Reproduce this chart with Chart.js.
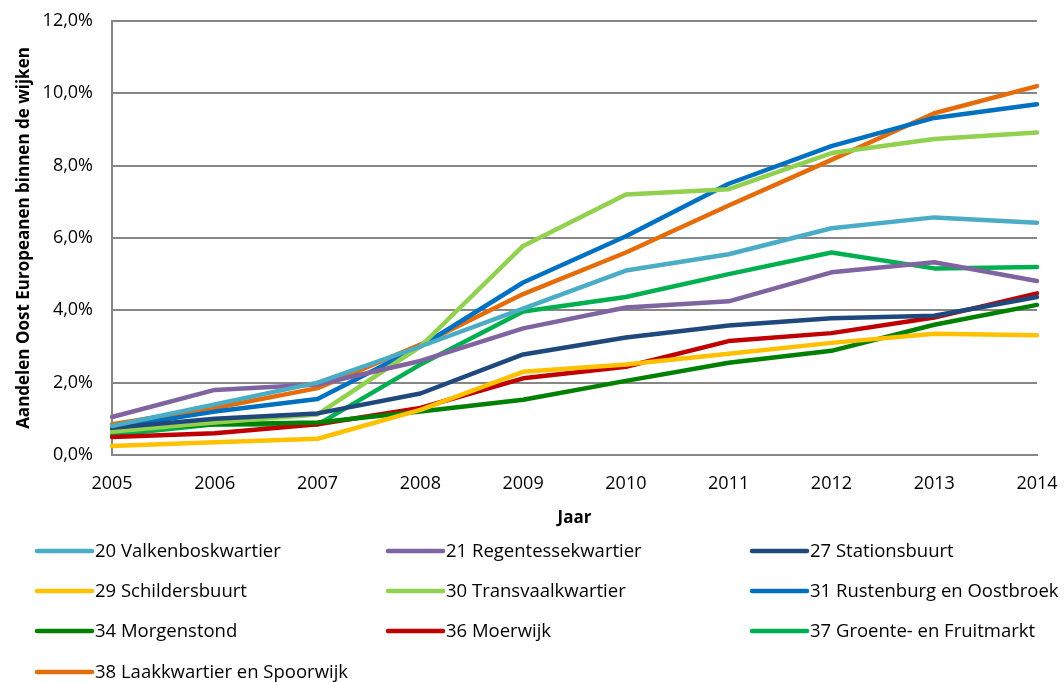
<!DOCTYPE html>
<html>
<head>
<meta charset="utf-8">
<script src="https://cdn.jsdelivr.net/npm/chart.js@4/dist/chart.umd.min.js"></script>
<style>
  html, body { margin: 0; padding: 0; background: #fff; }
  #wrap { width: 1064px; height: 682px; position: relative; }
</style>
</head>
<body>
<div id="wrap"><canvas id="c" width="1064" height="682"></canvas></div>
<script>
// Aandelen Oost Europeanen per wijk, 2005-2014 (percent)
const years = ["2005", "2006", "2007", "2008", "2009", "2010", "2011", "2012", "2013", "2014"];
const yTicks = [0, 2, 4, 6, 8, 10, 12];

const valkenbos    = [0.80, 1.40, 2.00, 3.00, 4.05, 5.10, 5.55, 6.27, 6.57, 6.42];
const regentesse   = [1.05, 1.80, 1.95, 2.60, 3.50, 4.08, 4.25, 5.05, 5.33, 4.81];
const stations     = [0.75, 1.00, 1.15, 1.70, 2.78, 3.25, 3.58, 3.78, 3.85, 4.37];
const schilders    = [0.25, 0.35, 0.45, 1.25, 2.30, 2.50, 2.80, 3.10, 3.35, 3.31];
const transvaal    = [0.65, 0.90, 1.12, 3.00, 5.78, 7.20, 7.35, 8.35, 8.74, 8.92];
const rustenburg   = [0.75, 1.20, 1.55, 3.00, 4.77, 6.05, 7.50, 8.54, 9.32, 9.70];
const morgenstond  = [0.70, 0.85, 0.90, 1.20, 1.53, 2.05, 2.55, 2.88, 3.60, 4.15];
const moerwijk     = [0.50, 0.60, 0.85, 1.30, 2.12, 2.44, 3.15, 3.37, 3.80, 4.47];
const groente      = [0.55, 0.85, 0.84, 2.50, 3.97, 4.37, 5.00, 5.60, 5.16, 5.20];
const laak         = [0.85, 1.30, 1.85, 3.05, 4.45, 5.60, 6.90, 8.16, 9.45, 10.20];

const seriesNames = [
  "20 Valkenboskwartier", "21 Regentessekwartier", "27 Stationsbuurt",
  "29 Schildersbuurt", "30 Transvaalkwartier", "31 Rustenburg en Oostbroek",
  "34 Morgenstond", "36 Moerwijk", "37 Groente- en Fruitmarkt",
  "38 Laakkwartier en Spoorwijk"
];
const seriesData = [valkenbos, regentesse, stations, schilders, transvaal,
  rustenburg, morgenstond, moerwijk, groente, laak];
const seriesColors = ["#4bacc6", "#8064a2", "#1f497d", "#ffc000", "#92d050",
  "#0070c0", "#008000", "#c00000", "#00b050", "#e46c0a"];

const FONT = "'Open Sans', sans-serif";

// legend drawn on the canvas in a 3-column grid like the original
const gridLegend = {
  id: "gridLegend",
  afterDraw(chart) {
    const ctx = chart.ctx;
    const colX = [37, 388, 752];
    const rowY = [551, 591, 631, 672];
    ctx.save();
    ctx.font = "18.5px " + FONT;
    ctx.textBaseline = "middle";
    ctx.lineCap = "round";
    chart.data.datasets.forEach((ds, i) => {
      const x = colX[i % 3];
      const y = rowY[Math.floor(i / 3)];
      ctx.strokeStyle = ds.borderColor;
      ctx.lineWidth = 4.5;
      ctx.beginPath();
      ctx.moveTo(x, y);
      ctx.lineTo(x + 55, y);
      ctx.stroke();
      ctx.fillStyle = "#000";
      ctx.fillText(ds.label, x + 58, y + 1);
    });
    ctx.restore();
  }
};

new Chart(document.getElementById("c"), {
  type: "line",
  data: {
    labels: years,
    datasets: seriesNames.map((name, i) => ({
      label: name,
      data: seriesData[i],
      borderColor: seriesColors[i],
      backgroundColor: seriesColors[i],
      borderWidth: 4.5,
      pointRadius: 0,
      tension: 0,
      borderCapStyle: "round",
      borderJoinStyle: "round",
    })),
  },
  options: {
    responsive: false,
    animation: false,
    layout: { padding: { left: 0, top: 21, right: 27, bottom: 152 } },
    plugins: {
      legend: { display: false },
      tooltip: { enabled: false },
    },
    scales: {
      x: {
        type: "category",
        offset: false,
        // invisible tick marks only create the gap between axis and labels
        grid: { display: true, color: "transparent", tickColor: "transparent", drawOnChartArea: false, drawTicks: true, tickLength: 18 },
        border: { display: true, color: "#868686", width: 2 },
        ticks: { color: "#000", font: { family: FONT, size: 18 }, padding: 0, maxRotation: 0, autoSkip: false },
        title: { display: true, text: "Jaar", color: "#000", font: { family: FONT, size: 17, weight: "bold" }, padding: { top: 4, bottom: 2 } },
        afterFit: (s) => { s.height = 75; },
      },
      y: {
        min: 0,
        max: 12,
        afterBuildTicks: (s) => { s.ticks = yTicks.map(v => ({ value: v })); },
        grid: { color: "#868686", lineWidth: 2, drawTicks: true, tickLength: 19, tickColor: "transparent" },
        border: { display: true, color: "#868686", width: 2 },
        ticks: {
          color: "#000",
          font: { family: FONT, size: 18 },
          padding: 0,
          callback: (v) => v.toFixed(1).replace(".", ",") + "%",
        },
        title: { display: true, text: "Aandelen Oost Europeanen binnen de wijken", color: "#000", font: { family: FONT, size: 17, weight: "bold" }, padding: { top: 14, bottom: 4 } },
        afterFit: (s) => { s.width = 112; },
      },
    },
  },
  plugins: [gridLegend],
});
</script>
</body>
</html>
